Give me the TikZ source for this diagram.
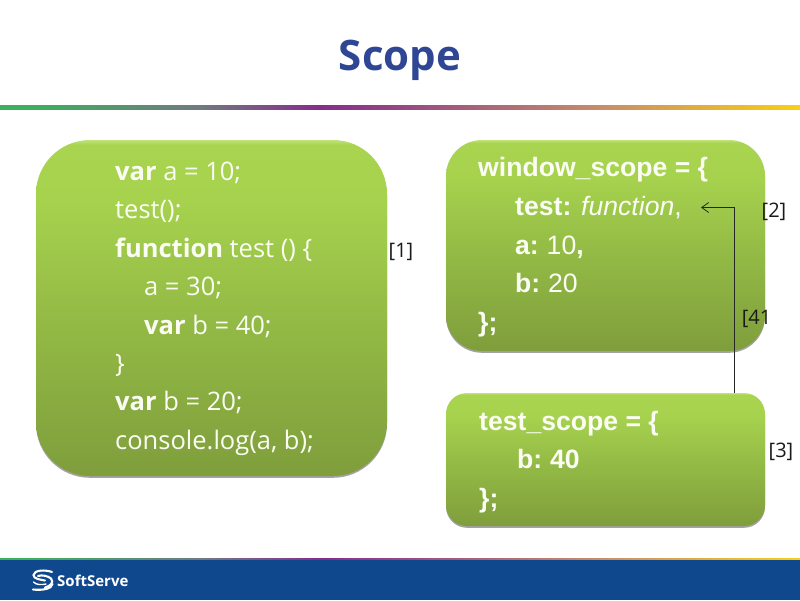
\documentclass[tikz,border=0pt]{standalone}
\usepackage{fontspec}
\setmainfont{Open Sans}
\newfontfamily\arialf{Liberation Sans}
\usetikzlibrary{shadows,arrows.meta,calc}
\definecolor{titleblue}{HTML}{2F4694}
\definecolor{codewhite}{HTML}{FBFDF5}
\definecolor{labelgrey}{HTML}{1A1A1A}
\definecolor{hbA}{HTML}{3CB05C}
\definecolor{hbB}{HTML}{707A80}
\definecolor{hbC}{HTML}{872C8C}
\definecolor{hbD}{HTML}{964884}
\definecolor{hbE}{HTML}{C88C69}
\definecolor{hbF}{HTML}{FAD010}
\definecolor{gbA}{HTML}{7F9E3C}
\definecolor{gbB}{HTML}{93BA45}
\definecolor{gbC}{HTML}{A6D24E}
\definecolor{gbD}{HTML}{A8D450}
\definecolor{gbE}{HTML}{C0E27A}
\definecolor{footblue}{HTML}{0F488C}
\pgfdeclarehorizontalshading{headbar}{100bp}{
  color(0bp)=(hbA);
  color(27bp)=(hbA);
  color(37.5bp)=(hbB);
  color(45bp)=(hbC);
  color(50bp)=(hbD);
  color(62.5bp)=(hbE);
  color(75bp)=(hbF);
  color(100bp)=(hbF)}
\pgfdeclareverticalshading{greenbox}{100bp}{
  color(0bp)=(gbA);
  color(25bp)=(gbA);
  color(48bp)=(gbB);
  color(66bp)=(gbC);
  color(74.3bp)=(gbD);
  color(75bp)=(gbE);
  color(100bp)=(gbE)}
\tikzset{
  greenpanel/.style={draw=none,shading=greenbox,inner sep=0pt,
    drop shadow={shadow xshift=0pt,shadow yshift=-1.8pt,opacity=.45,fill=black!80}},
  codeline/.style={anchor=base west,inner sep=0pt,text=codewhite,font=\fontsize{25.5}{25.5}\selectfont},
  rightline/.style={anchor=base west,inner sep=0pt,text=codewhite,font=\arialf\fontsize{26.6}{26.6}\selectfont},
  refmark/.style={inner sep=0pt,text=labelgrey,font=\fontsize{20}{20}\selectfont},
  logostroke/.style={draw=white,line cap=round,line width=2.1pt}
}
\begin{document}
\begin{tikzpicture}[x=1pt,y=-1pt]
\useasboundingbox (0,0) rectangle (800,600);
\fill[white] (0,0) rectangle (800,600);
% header
\node[text=titleblue,font=\bfseries\fontsize{42}{42}\selectfont,inner sep=0pt] (title) at (400,60) {Scope};
\shade[shading=headbar] (0,105) rectangle (800,109);
% footer
\shade[shading=headbar] (0,558.5) rectangle (800,560.5);
\fill[footblue] (0,560) rectangle (800,600);
% logo
\draw[logostroke] (52,572) .. controls (45,569.5) and (34,570) .. (33.5,575) .. controls (33.5,579) and (40,579.5) .. (45,580.5);
\draw[logostroke] (38,576) .. controls (42,574.5) and (48,576) .. (51,578.5) .. controls (54,582) and (51,586) .. (45,587.5);
\draw[logostroke] (33,589.5) .. controls (42,590.5) and (52,589) .. (52.5,584);
\draw[logostroke,line width=1.4pt] (33.5,582) .. controls (36,585) and (42,585) .. (46,584);
\node[text=white,font=\bfseries\fontsize{15}{15}\selectfont,anchor=west,inner sep=0pt] (brand) at (57,580.5) {SoftServe};
% panels
\node[greenpanel,rounded corners=54pt,minimum width=351pt,minimum height=336pt] (leftbox) at (211.5,308) {};
\node[greenpanel,rounded corners=36pt,minimum width=319pt,minimum height=211pt] (windowbox) at (605.5,245.5) {};
\node[greenpanel,rounded corners=21pt,minimum width=319pt,minimum height=133pt] (testbox) at (605.5,459.5) {};
% left code
\node[codeline] (l1) at (115,180) {\textbf{var} a = 10;};
\node[codeline] (l2) at (115,218) {test();};
\node[codeline] (l3) at (115,257) {\textbf{function} test () \{};
\node[codeline] (l4) at (144,295) {a = 30;};
\node[codeline] (l5) at (144,334) {\textbf{var} b = 40;};
\node[codeline] (l6) at (115,372) {\}};
\node[codeline] (l7) at (115,410) {\textbf{var} b = 20;};
\node[codeline] (l8) at (115,449) {console.log(a, b);};
% window scope
\node[rightline] (w1) at (478,176) {\textbf{window\_scope = \{}};
\node[rightline] (w2) at (515,215) {\textbf{test:} \textit{function},};
\node[rightline] (w3) at (515,254) {\textbf{a:}\hspace{-2pt} 10\textbf{,}};
\node[rightline] (w4) at (515,292) {\textbf{b:}\hspace{-2pt} 20};
\node[rightline] (w5) at (478,331) {\textbf{\};}};
% test scope
\node[rightline] (t1) at (479,430) {\textbf{test\_scope = \{}};
\node[rightline] (t2) at (517,468) {\textbf{b:\hspace{-2pt} 40}};
\node[rightline] (t3) at (479,507) {\textbf{\};}};
% references
\node[refmark] (r1) at (401,252) {[1]};
\node[refmark] (r2) at (774,212) {[2]};
\node[refmark] (r41) at (756.5,319) {[41};
\node[refmark] (r3) at (781,452) {[3]};
% connector
\coordinate (connstart) at (734,393);
\coordinate (connend) at (701,207.5);
\draw[-{Straight Barb[length=7pt,width=10pt]},draw=black!85,line width=.8pt] (connstart) |- (connend);
\end{tikzpicture}
\end{document}
